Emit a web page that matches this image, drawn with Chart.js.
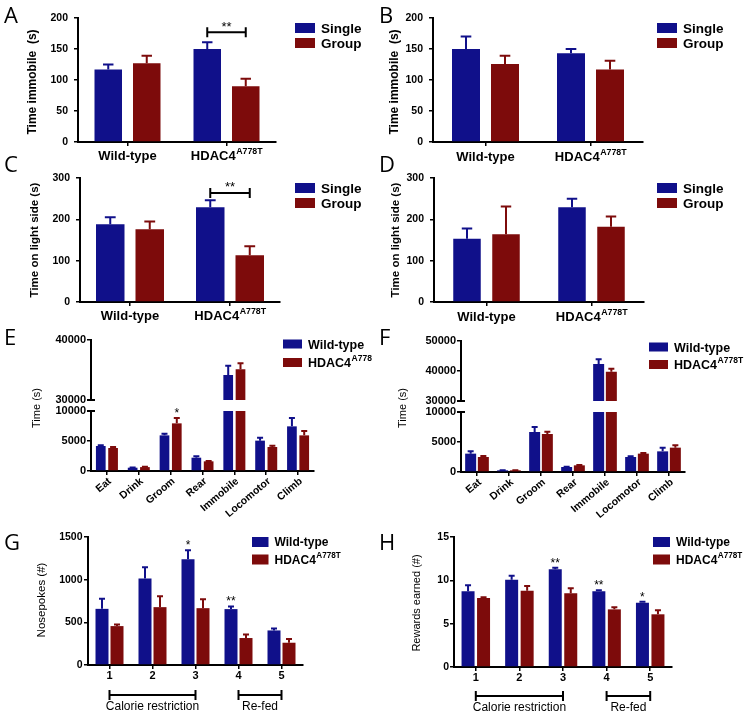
<!DOCTYPE html>
<html>
<head>
<meta charset="utf-8">
<script src="https://cdn.jsdelivr.net/npm/chart.js@4.4.0/dist/chart.umd.min.js"></script>
<style>
  html, body { margin: 0; padding: 0; background: #fff; }
  #fig { position: relative; width: 750px; height: 717px; overflow: hidden; }
  #fig canvas { position: absolute; left: 0; top: 0; }
</style>
</head>
<body>
<div id="fig">
  <canvas id="chartA" width="750" height="717"></canvas>
  <canvas id="chartB" width="750" height="717"></canvas>
  <canvas id="chartC" width="750" height="717"></canvas>
  <canvas id="chartD" width="750" height="717"></canvas>
  <canvas id="chartEtop" width="750" height="717"></canvas>
  <canvas id="chartEbot" width="750" height="717"></canvas>
  <canvas id="chartFtop" width="750" height="717"></canvas>
  <canvas id="chartFbot" width="750" height="717"></canvas>
  <canvas id="chartG" width="750" height="717"></canvas>
  <canvas id="chartH" width="750" height="717"></canvas>
</div>
<script>
// ---- data ----
const groupCats = ['Wild-type', 'HDAC4'];
const groupSup = ['', 'A778T'];
const housing = ['Single', 'Group'];
const genotypes = ['Wild-type', 'HDAC4'];

// A, B: time immobile (s) ; C, D: time on light side (s)
const aSingle = [117, 150], aSingleErr = [8, 11];
const aGroup = [127, 90], aGroupErr = [12, 12];
const bSingle = [150, 143], bSingleErr = [20, 7];
const bGroup = [126, 117], bGroupErr = [13, 14];
const cSingle = [188, 229], cSingleErr = [17, 17];
const cGroup = [176, 113], cGroupErr = [19, 22];
const dSingle = [153, 229], dSingleErr = [25, 21];
const dGroup = [164, 182], dGroupErr = [67, 25];

// E, F: time (s) per behaviour
const behaviours = ['Eat', 'Drink', 'Groom', 'Rear', 'Immobile', 'Locomotor', 'Climb'];
const eWild = [4170, 550, 5940, 2220, 34170, 5060, 7440];
const eWildErr = [110, 40, 280, 220, 1550, 500, 1390];
const eHdac = [3830, 650, 7940, 1610, 35110, 4000, 5940];
const eHdacErr = [170, 40, 890, 60, 1000, 220, 730];
const fWild = [3060, 280, 6670, 830, 42330, 2500, 3440];
const fWildErr = [380, 30, 830, 40, 1560, 110, 620];
const fHdac = [2500, 280, 6330, 1110, 39780, 3060, 4060];
const fHdacErr = [170, 30, 390, 60, 1000, 110, 380];

// G: nosepokes (#) ; H: rewards earned (#)
const sessions = ['1', '2', '3', '4', '5'];
const gWild = [658, 1013, 1239, 655, 405];
const gWildErr = [117, 132, 105, 31, 23];
const gHdac = [456, 678, 666, 316, 261];
const gHdacErr = [19, 128, 105, 42, 43];
const hWild = [8.73, 10.08, 11.27, 8.73, 7.42];
const hWildErr = [0.69, 0.46, 0.19, 0.12, 0.12];
const hHdac = [7.96, 8.81, 8.5, 6.65, 6.08];
const hHdacErr = [0.08, 0.54, 0.58, 0.23, 0.46];
const phaseNames = ['Calorie restriction', 'Re-fed'];
const phaseSpans = [[0, 2], [3, 4]];

// ---- style ----
const BLUE = '#10108a';
const RED = '#7d0b0b';
const SANS = '"Liberation Sans", Arial, sans-serif';
Chart.defaults.font.family = SANS;
const DEG = Math.PI / 180;

function put(ctx, str, x, y, font, align, base, angle) {
  ctx.save();
  ctx.font = font;
  ctx.fillStyle = '#000';
  ctx.textAlign = align || 'center';
  ctx.textBaseline = base || 'middle';
  ctx.translate(x, y);
  if (angle) ctx.rotate(angle);
  ctx.fillText(str, 0, 0);
  ctx.restore();
}

// bold text with an optional raised superscript
function withSup(ctx, main, sup, x, y, size, align) {
  ctx.save();
  ctx.fillStyle = '#000';
  ctx.textAlign = 'left';
  ctx.textBaseline = 'alphabetic';
  const small = size * 0.68;
  ctx.font = `bold ${size}px ${SANS}`;
  const w1 = ctx.measureText(main).width;
  ctx.font = `bold ${small}px ${SANS}`;
  const w2 = sup ? ctx.measureText(sup).width : 0;
  const x0 = align === 'left' ? x : x - (w1 + w2) / 2;
  ctx.font = `bold ${size}px ${SANS}`;
  ctx.fillText(main, x0, y);
  if (sup) {
    ctx.font = `bold ${small}px ${SANS}`;
    ctx.fillText(sup, x0 + w1 + 0.5, y - size * 0.45);
  }
  ctx.restore();
}

function legend(ctx, x, cy, dy, bw, bh, size, items) {
  items.forEach((it, k) => {
    const y = cy + k * dy;
    ctx.fillStyle = it.color;
    ctx.fillRect(x, y - bh / 2, bw, bh);
    withSup(ctx, it.text, it.sup, x + bw + 6, y + size * 0.36, size, 'left');
  });
}

function letter(ctx, s, x, y) {
  put(ctx, s, x, y, `22px "Open Sans", sans-serif`, 'left', 'alphabetic');
}

function yTitle(ctx, s, x, y, font) {
  put(ctx, s, x, y, font, 'center', 'middle', -90 * DEG);
}

function line(ctx, pts) {
  ctx.save();
  ctx.strokeStyle = '#000';
  ctx.lineWidth = 2;
  ctx.beginPath();
  pts.forEach(p => { ctx.moveTo(p[0], p[1]); ctx.lineTo(p[2], p[3]); });
  ctx.stroke();
  ctx.restore();
}

function groupLabels(chart, ctx, baseY) {
  const x = chart.scales.x;
  groupCats.forEach((c, i) => withSup(ctx, c, groupSup[i], x.getPixelForValue(i), baseY, 13, 'center'));
}

function slantLabels(chart, ctx) {
  const x = chart.scales.x, y0 = chart.chartArea.bottom;
  chart.data.labels.forEach((lab, i) => {
    put(ctx, lab, x.getPixelForValue(i) + 3, y0 + 9, `bold 10.5px ${SANS}`, 'right', 'middle', -40 * DEG);
  });
}

function numLabels(chart, ctx, cy) {
  const x = chart.scales.x;
  chart.data.labels.forEach((lab, i) => put(ctx, lab, x.getPixelForValue(i), cy, `bold 11px ${SANS}`));
}

function star(chart, ctx, di, i, s) {
  const ds = chart.data.datasets[di];
  const bar = chart.getDatasetMeta(di).data[i];
  const yp = chart.scales.y.getPixelForValue(ds.data[i] + ds.errors[i]);
  put(ctx, s, bar.x, yp - 1, `12px ${SANS}`, 'center', 'alphabetic');
}

function sigBracket(chart, ctx, i, val, s) {
  const b0 = chart.getDatasetMeta(0).data[i], b1 = chart.getDatasetMeta(1).data[i];
  const y = chart.scales.y.getPixelForValue(val);
  line(ctx, [[b0.x, y, b1.x, y], [b0.x, y - 5, b0.x, y + 5], [b1.x, y - 5, b1.x, y + 5]]);
  put(ctx, s, (b0.x + b1.x) / 2, y - 1.5, `13px ${SANS}`, 'center', 'alphabetic');
}

function phases(chart, ctx, y, ty) {
  const x = chart.scales.x;
  phaseNames.forEach((name, k) => {
    const a = x.getPixelForValue(phaseSpans[k][0]), b = x.getPixelForValue(phaseSpans[k][1]);
    line(ctx, [[a, y, b, y], [a, y - 5, a, y + 5], [b, y - 5, b, y + 5]]);
    put(ctx, name, (a + b) / 2, ty, `12px ${SANS}`);
  });
}

// error bars drawn through the value scale
const errorBars = {
  id: 'errorBars',
  afterDatasetsDraw(chart) {
    const ctx = chart.ctx, ys = chart.scales.y;
    chart.data.datasets.forEach((ds, di) => {
      if (!ds.errors) return;
      chart.getDatasetMeta(di).data.forEach((bar, j) => {
        const v = ds.data[j], e = ds.errors[j];
        if (v == null || e == null || v + e > ys.max) return;
        const top = ys.getPixelForValue(v + e);
        const half = Math.max(3, bar.width * 0.19);
        ctx.save();
        ctx.strokeStyle = ds.backgroundColor;
        ctx.lineWidth = 2;
        ctx.beginPath();
        ctx.moveTo(bar.x, bar.y);
        ctx.lineTo(bar.x, top);
        ctx.moveTo(bar.x - half, top);
        ctx.lineTo(bar.x + half, top);
        ctx.stroke();
        ctx.restore();
      });
    });
  }
};

function makeChart(id, o) {
  const W = 45;
  const H = o.showX === false ? 0 : 6;
  const catW = (o.area.r - o.area.l) / o.labels.length;
  return new Chart(document.getElementById(id), {
    type: 'bar',
    data: {
      labels: o.labels,
      datasets: o.sets.map(s => ({
        label: s.label,
        data: s.data,
        errors: s.err,
        backgroundColor: s.color,
        borderWidth: 0,
        categoryPercentage: 2 * o.pitch / catW,
        barPercentage: o.barW / o.pitch
      }))
    },
    options: {
      responsive: false,
      animation: false,
      events: [],
      devicePixelRatio: 1,
      layout: { padding: { left: o.area.l - W, right: 750 - o.area.r, top: o.area.t, bottom: 717 - o.area.b - H } },
      plugins: { legend: { display: false }, tooltip: { enabled: false } },
      scales: {
        x: {
          display: o.showX !== false,
          grid: { offset: false, drawOnChartArea: false, drawTicks: true, tickLength: 4, color: '#000', lineWidth: 1.5 },
          border: { color: '#000', width: 2 },
          ticks: { display: false },
          afterFit: s => { s.height = H; }
        },
        y: {
          min: o.min,
          max: o.max,
          ticks: {
            stepSize: o.step,
            color: '#000',
            padding: o.tickPad,
            font: { family: SANS, weight: 'bold', size: o.tickSize },
            callback: v => String(v)
          },
          grid: { drawOnChartArea: false, drawTicks: true, tickLength: o.tickLen || 4, color: '#000', lineWidth: 1.5 },
          border: { color: '#000', width: 2 },
          afterFit: s => { s.width = W; }
        }
      }
    },
    plugins: [errorBars, { id: 'decor', afterDraw: c => { if (o.decor) o.decor(c, c.ctx); } }]
  });
}

const pairSets = (s1, e1, s2, e2, names) => [
  { label: names[0], data: s1, err: e1, color: BLUE },
  { label: names[1], data: s2, err: e2, color: RED }
];
const housingLegend = [{ color: BLUE, text: housing[0] }, { color: RED, text: housing[1] }];
const genoLegend = sup => [{ color: BLUE, text: genotypes[0] }, { color: RED, text: genotypes[1], sup: sup }];
const onlyTop = (vals, cut) => vals.map(v => (v > cut ? v : null));

// ---- A ----
makeChart('chartA', {
  area: { l: 78, t: 18, r: 276, b: 142 }, min: 0, max: 200, step: 50, tickPad: 6, tickSize: 10.5,
  labels: groupCats, barW: 27.5, pitch: 38.5,
  sets: pairSets(aSingle, aSingleErr, aGroup, aGroupErr, housing),
  decor: (c, ctx) => {
    letter(ctx, 'A', 4, 23);
    yTitle(ctx, 'Time immobile  (s)', 33, 82, `bold 12px ${SANS}`);
    groupLabels(c, ctx, 160);
    sigBracket(c, ctx, 1, 177, '**');
    legend(ctx, 295, 28, 15, 20, 10, 13.5, housingLegend);
  }
});

// ---- B ----
makeChart('chartB', {
  area: { l: 433, t: 18, r: 643, b: 142 }, min: 0, max: 200, step: 50, tickPad: 6, tickSize: 10.5,
  labels: groupCats, barW: 28, pitch: 39,
  sets: pairSets(bSingle, bSingleErr, bGroup, bGroupErr, housing),
  decor: (c, ctx) => {
    letter(ctx, 'B', 379, 23);
    yTitle(ctx, 'Time immobile  (s)', 395, 82, `bold 12px ${SANS}`);
    groupLabels(c, ctx, 161);
    legend(ctx, 657, 28, 15, 20, 10, 13.5, housingLegend);
  }
});

// ---- C ----
makeChart('chartC', {
  area: { l: 80, t: 178, r: 280, b: 302 }, min: 0, max: 300, step: 100, tickPad: 6, tickSize: 10.5,
  labels: groupCats, barW: 28.5, pitch: 39.5,
  sets: pairSets(cSingle, cSingleErr, cGroup, cGroupErr, housing),
  decor: (c, ctx) => {
    letter(ctx, 'C', 4, 172);
    yTitle(ctx, 'Time on light side (s)', 35, 240, `bold 11.5px ${SANS}`);
    groupLabels(c, ctx, 320);
    sigBracket(c, ctx, 1, 264, '**');
    legend(ctx, 295, 188, 15, 20, 10, 13.5, housingLegend);
  }
});

// ---- D ----
makeChart('chartD', {
  area: { l: 434, t: 178, r: 644, b: 302 }, min: 0, max: 300, step: 100, tickPad: 6, tickSize: 10.5,
  labels: groupCats, barW: 27.5, pitch: 39,
  sets: pairSets(dSingle, dSingleErr, dGroup, dGroupErr, housing),
  decor: (c, ctx) => {
    letter(ctx, 'D', 379, 172);
    yTitle(ctx, 'Time on light side (s)', 396, 240, `bold 11.5px ${SANS}`);
    groupLabels(c, ctx, 321);
    legend(ctx, 657, 188, 15, 20, 10, 13.5, housingLegend);
  }
});

// ---- E (broken axis: two stacked charts) ----
makeChart('chartEtop', {
  area: { l: 91, t: 340, r: 314, b: 400 }, min: 30000, max: 40000, step: 10000, tickPad: 1, tickSize: 11,
  labels: behaviours, barW: 9.7, pitch: 12.3, showX: false,
  sets: pairSets(onlyTop(eWild, 30000), eWildErr, onlyTop(eHdac, 30000), eHdacErr, genotypes),
  decor: (c, ctx) => { line(ctx, [[c.chartArea.left - 4, c.chartArea.bottom, c.chartArea.left + 4, c.chartArea.bottom]]); }
});
makeChart('chartEbot', {
  area: { l: 91, t: 411, r: 314, b: 471 }, min: 0, max: 10000, step: 5000, tickPad: 1, tickSize: 11,
  labels: behaviours, barW: 9.7, pitch: 12.3,
  sets: pairSets(eWild, eWildErr, eHdac, eHdacErr, genotypes),
  decor: (c, ctx) => {
    line(ctx, [[c.chartArea.left - 4, c.chartArea.top, c.chartArea.left + 4, c.chartArea.top]]);
    letter(ctx, 'E', 4, 345);
    yTitle(ctx, 'Time (s)', 37, 408, `11px ${SANS}`);
    slantLabels(c, ctx);
    star(c, ctx, 1, 2, '*');
    legend(ctx, 283, 344, 18.5, 19, 9, 12.5, genoLegend('A778'));
  }
});

// ---- F ----
makeChart('chartFtop', {
  area: { l: 461, t: 341, r: 685, b: 401 }, min: 30000, max: 50000, step: 10000, tickPad: 1, tickSize: 11,
  labels: behaviours, barW: 11, pitch: 12.7, showX: false,
  sets: pairSets(onlyTop(fWild, 30000), fWildErr, onlyTop(fHdac, 30000), fHdacErr, genotypes),
  decor: (c, ctx) => { line(ctx, [[c.chartArea.left - 4, c.chartArea.bottom, c.chartArea.left + 4, c.chartArea.bottom]]); }
});
makeChart('chartFbot', {
  area: { l: 461, t: 412, r: 685, b: 472 }, min: 0, max: 10000, step: 5000, tickPad: 1, tickSize: 11,
  labels: behaviours, barW: 11, pitch: 12.7,
  sets: pairSets(fWild, fWildErr, fHdac, fHdacErr, genotypes),
  decor: (c, ctx) => {
    line(ctx, [[c.chartArea.left - 4, c.chartArea.top, c.chartArea.left + 4, c.chartArea.top]]);
    letter(ctx, 'F', 379, 345);
    yTitle(ctx, 'Time (s)', 403, 408, `11px ${SANS}`);
    slantLabels(c, ctx);
    legend(ctx, 649, 347, 17.5, 19, 9, 12.5, genoLegend('A778T'));
  }
});

// ---- G ----
makeChart('chartG', {
  area: { l: 88, t: 537, r: 303, b: 665 }, min: 0, max: 1500, step: 500, tickPad: 1.5, tickSize: 10.5,
  labels: sessions, barW: 13, pitch: 15,
  sets: pairSets(gWild, gWildErr, gHdac, gHdacErr, genotypes),
  decor: (c, ctx) => {
    letter(ctx, 'G', 4, 550);
    yTitle(ctx, 'Nosepokes (#)', 42, 600, `11.5px ${SANS}`);
    numLabels(c, ctx, 676);
    star(c, ctx, 0, 2, '*');
    star(c, ctx, 0, 3, '**');
    phases(c, ctx, 695, 707);
    legend(ctx, 252, 542, 17.5, 16.5, 10, 12, genoLegend('A778T'));
  }
});

// ---- H ----
makeChart('chartH', {
  area: { l: 454, t: 537, r: 672, b: 667 }, min: 0, max: 15, step: 5, tickPad: 1, tickSize: 10.5,
  labels: sessions, barW: 13, pitch: 15.5,
  sets: pairSets(hWild, hWildErr, hHdac, hHdacErr, genotypes),
  decor: (c, ctx) => {
    letter(ctx, 'H', 379, 550);
    yTitle(ctx, 'Rewards earned (#)', 417, 603, `11px ${SANS}`);
    numLabels(c, ctx, 678);
    star(c, ctx, 0, 2, '**');
    star(c, ctx, 0, 3, '**');
    star(c, ctx, 0, 4, '*');
    phases(c, ctx, 696, 708);
    legend(ctx, 653, 542, 17.5, 17, 10, 12, genoLegend('A778T'));
  }
});
</script>
</body>
</html>
